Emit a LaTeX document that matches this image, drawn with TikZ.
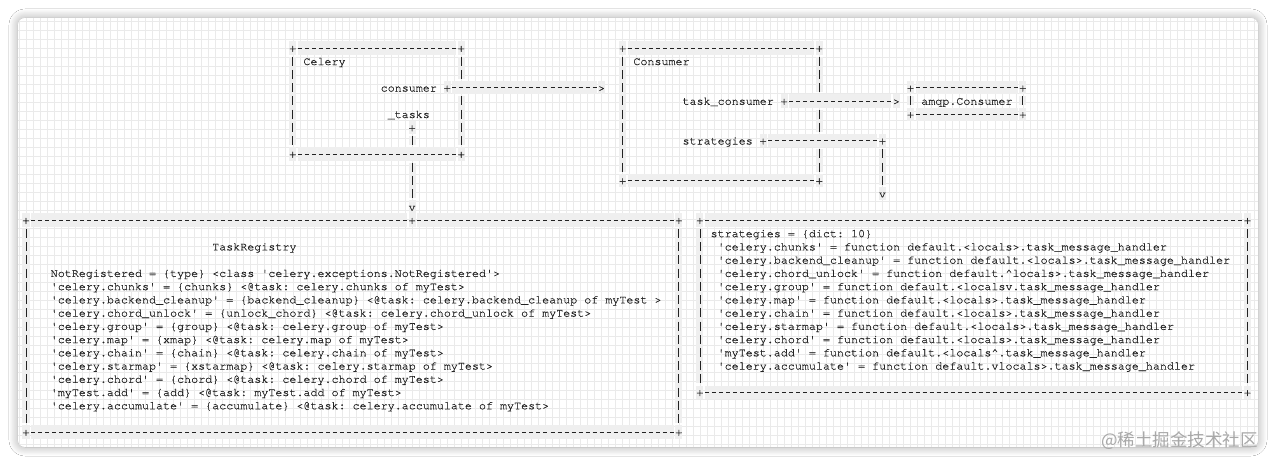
\documentclass[tikz,border=0pt]{standalone}
\usepackage{fontspec}
\setmonofont[FakeBold=0.4]{texgyrecursor-regular.otf}
\newfontfamily\markfont{Noto Sans CJK SC}
\usetikzlibrary{shadows.blur}
\definecolor{ink}{HTML}{222222}
\definecolor{band}{HTML}{EFEFEF}
\definecolor{gridgray}{HTML}{EAEAEA}
\definecolor{markgray}{HTML}{A8A8A8}
\tikzset{
  code/.style={font=\ttfamily\fontsize{11.7}{13.24}\selectfont\frenchspacing,text=ink,inner sep=0pt,text height=10.42pt,text depth=2.82pt},
  txt/.style={code,anchor=west},
  hook/.style={code,fill=band},
  hdash/.style={draw=ink,line width=0.75pt,dash pattern=on 4pt off 3.02pt,shorten <=5.02pt,shorten >=5.02pt,preaction={draw=band,line width=13.24pt,solid}},
  vdash/.style={draw=ink,line width=0.75pt,dash pattern=on 9pt off 4.24pt,shorten <=8.74pt,shorten >=8.74pt,preaction={draw=band,line width=7.02pt,solid}},
}
\begin{document}
\begin{tikzpicture}[x=7.02pt,y=-13.24pt]
\path[use as bounding box,fill=white] (-3.7037,-3.6254) rectangle (178.063,31.4955);
\coordinate (frame-nw) at (-1.14,-2.266);
\coordinate (frame-ne) at (175.5,-2.266);
\coordinate (frame-sw) at (-1.14,30.136);
\coordinate (frame-se) at (175.5,30.136);
\fill[white,rounded corners=7pt,blur shadow={shadow blur steps=12,shadow xshift=0pt,shadow yshift=0pt,shadow blur radius=9pt,shadow opacity=35}] (frame-nw) rectangle (frame-se);
\begin{scope}
\clip[rounded corners=7pt] (frame-nw) rectangle (frame-se);
\draw[gridgray,line width=0.5pt,xstep=7.02pt,ystep=9pt] (frame-sw) grid (frame-ne);
\end{scope}

\node[hook] (cel-nw) at (38,0) {+};
\node[hook] (cel-ne) at (62,0) {+};
\node[hook] (cel-sw) at (38,8) {+};
\node[hook] (cel-se) at (62,8) {+};
\coordinate (cel-e3) at (62,3);
\coordinate (cel-s55) at (55,8);
\draw[hdash] (cel-nw.center) -- (cel-ne.center);
\draw[hdash] (cel-sw.center) -- (cel-se.center);
\draw[vdash] (cel-nw.center) -- (cel-sw.center);
\draw[vdash] (cel-ne.center) -- (cel-e3);
\draw[vdash] (cel-e3) -- (cel-se.center);
\node[txt] (celery) at (39.5,1) {Celery};
\node[txt] (cel-consumer) at (50.5,3) {consumer};
\node[txt] (cel-tasks) at (51.5,5) {\_tasks};

\node[hook] (csm-nw) at (85,0) {+};
\node[hook] (csm-ne) at (113,0) {+};
\node[hook] (csm-sw) at (85,10) {+};
\node[hook] (csm-se) at (113,10) {+};
\coordinate (csm-e4) at (113,4);
\coordinate (csm-e7) at (113,7);
\draw[hdash] (csm-nw.center) -- (csm-ne.center);
\draw[hdash] (csm-sw.center) -- (csm-se.center);
\draw[vdash] (csm-nw.center) -- (csm-sw.center);
\draw[vdash] (csm-ne.center) -- (csm-e4);
\draw[vdash] (csm-e4) -- (csm-e7);
\draw[vdash] (csm-e7) -- (csm-se.center);
\node[txt] (consumer) at (86.5,1) {Consumer};
\node[txt] (csm-task) at (93.5,4) {task\_consumer};
\node[txt] (csm-strat) at (93.5,7) {strategies};

\node[hook] (amqp-nw) at (126,3) {+};
\node[hook] (amqp-ne) at (142,3) {+};
\node[hook] (amqp-sw) at (126,5) {+};
\node[hook] (amqp-se) at (142,5) {+};
\draw[hdash] (amqp-nw.center) -- (amqp-ne.center);
\draw[hdash] (amqp-sw.center) -- (amqp-se.center);
\draw[vdash] (amqp-nw.center) -- (amqp-sw.center);
\draw[vdash] (amqp-ne.center) -- (amqp-se.center);
\node[txt] (amqp) at (127.5,4) {amqp.Consumer};

\node[hook] (cons-from) at (60,3) {+};
\node[hook] (cons-to) at (82,3) {>};
\draw[hdash] (cons-from.center) -- (cons-to.center);
\node[hook] (tasks-from) at (55,6) {+};
\node[hook] (tasks-to) at (55,12) {v};
\draw[vdash] (tasks-from.center) -- (cel-s55);
\draw[vdash] (cel-s55) -- (tasks-to.center);
\node[hook] (tc-from) at (108,4) {+};
\node[hook] (tc-to) at (124,4) {>};
\draw[hdash] (tc-from.center) -- (tc-to.center);
\node[hook] (st-from) at (105,7) {+};
\node[hook] (st-bend) at (122,7) {+};
\node[hook] (st-to) at (122,11) {v};
\draw[hdash] (st-from.center) -- (st-bend.center);
\draw[vdash] (st-bend.center) -- (st-to.center);

\node[hook] (reg-nw) at (0,13) {+};
\node[hook] (reg-in) at (55,13) {+};
\node[hook] (reg-ne) at (93,13) {+};
\node[hook] (reg-sw) at (0,29) {+};
\node[hook] (reg-se) at (93,29) {+};
\draw[hdash] (reg-nw.center) -- (reg-in.center);
\draw[hdash] (reg-in.center) -- (reg-ne.center);
\draw[hdash] (reg-sw.center) -- (reg-se.center);
\draw[vdash] (reg-nw.center) -- (reg-sw.center);
\draw[vdash] (reg-ne.center) -- (reg-se.center);
\node[txt] (registry) at (26.5,15) {TaskRegistry};
\node[txt] (reg-notreg) at (3.5,17) {NotRegistered = \{type\} <class 'celery.exceptions.NotRegistered'>};
\node[txt] (reg-chunks) at (3.5,18) {'celery.chunks' = \{chunks\} <@task: celery.chunks of myTest>};
\node[txt] (reg-cleanup) at (3.5,19) {'celery.backend\_cleanup' = \{backend\_cleanup\} <@task: celery.backend\_cleanup of myTest >};
\node[txt] (reg-unlock) at (3.5,20) {'celery.chord\_unlock' = \{unlock\_chord\} <@task: celery.chord\_unlock of myTest>};
\node[txt] (reg-group) at (3.5,21) {'celery.group' = \{group\} <@task: celery.group of myTest>};
\node[txt] (reg-map) at (3.5,22) {'celery.map' = \{xmap\} <@task: celery.map of myTest>};
\node[txt] (reg-chain) at (3.5,23) {'celery.chain' = \{chain\} <@task: celery.chain of myTest>};
\node[txt] (reg-starmap) at (3.5,24) {'celery.starmap' = \{xstarmap\} <@task: celery.starmap of myTest>};
\node[txt] (reg-chord) at (3.5,25) {'celery.chord' = \{chord\} <@task: celery.chord of myTest>};
\node[txt] (reg-add) at (3.5,26) {'myTest.add' = \{add\} <@task: myTest.add of myTest>};
\node[txt] (reg-accum) at (3.5,27) {'celery.accumulate' = \{accumulate\} <@task: celery.accumulate of myTest>};

\node[hook] (str-nw) at (96,13) {+};
\node[hook] (str-ne) at (174,13) {+};
\node[hook] (str-sw) at (96,26) {+};
\node[hook] (str-se) at (174,26) {+};
\draw[hdash] (str-nw.center) -- (str-ne.center);
\draw[hdash] (str-sw.center) -- (str-se.center);
\draw[vdash] (str-nw.center) -- (str-sw.center);
\draw[vdash] (str-ne.center) -- (str-se.center);
\node[txt] (strategies) at (97.5,14) {strategies = \{dict: 10\}};
\node[txt] (str-chunks) at (98.5,15) {'celery.chunks' = function default.<locals>.task\_message\_handler};
\node[txt] (str-cleanup) at (98.5,16) {'celery.backend\_cleanup' = function default.<locals>.task\_message\_handler};
\node[txt] (str-unlock) at (98.5,17) {'celery.chord\_unlock' = function default.\textasciicircum locals>.task\_message\_handler};
\node[txt] (str-group) at (98.5,18) {'celery.group' = function default.<localsv.task\_message\_handler};
\node[txt] (str-map) at (98.5,19) {'celery.map' = function default.<locals>.task\_message\_handler};
\node[txt] (str-chain) at (98.5,20) {'celery.chain' = function default.<locals>.task\_message\_handler};
\node[txt] (str-starmap) at (98.5,21) {'celery.starmap' = function default.<locals>.task\_message\_handler};
\node[txt] (str-chord) at (98.5,22) {'celery.chord' = function default.<locals>.task\_message\_handler};
\node[txt] (str-add) at (98.5,23) {'myTest.add' = function default.<locals\textasciicircum.task\_message\_handler};
\node[txt] (str-accum) at (98.5,24) {'celery.accumulate' = function default.vlocals>.task\_message\_handler};

\node[anchor=east,inner sep=0pt,font=\markfont\fontsize{17.5}{20}\selectfont,text=markgray] (watermark) at (175.5,29.66) {@稀土掘金技术社区};
\end{tikzpicture}
\end{document}
